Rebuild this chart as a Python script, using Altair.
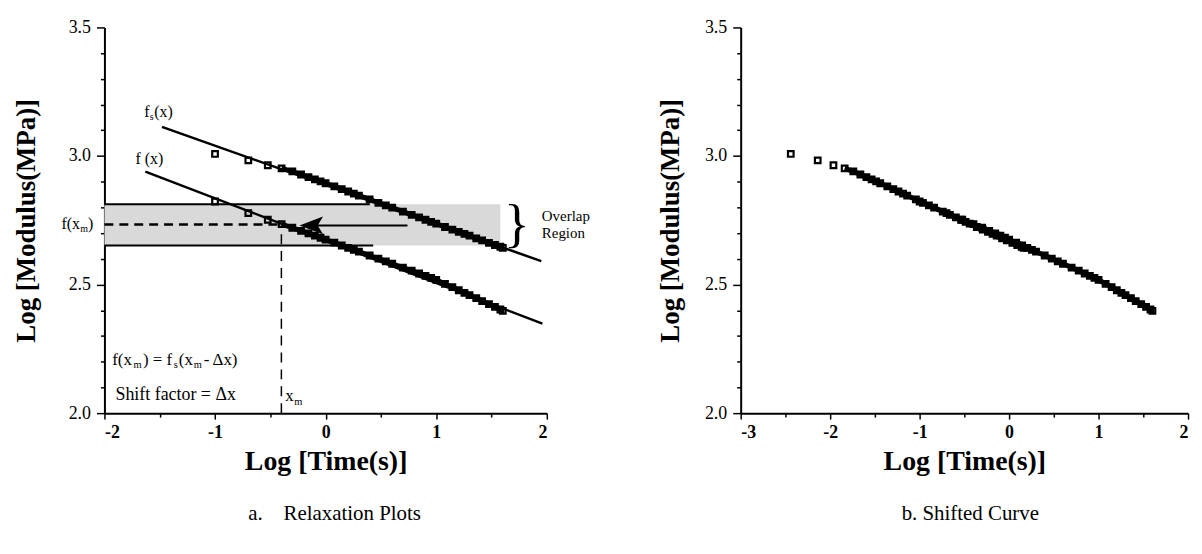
import altair as alt
import pandas as pd

FONT = "Liberation Serif"

# ---------------- data ----------------
# log time (s) of the measured points (both relaxation curves)
LOGT = [-1.000, -0.699, -0.523, -0.398, -0.301, -0.222, -0.155, -0.097, -0.046, 0.000,
        0.079, 0.146, 0.204, 0.255, 0.301, 0.398, 0.477, 0.544, 0.602, 0.699,
        0.778, 0.845, 0.903, 0.954, 1.000, 1.079, 1.146, 1.204, 1.255, 1.301,
        1.362, 1.415, 1.477, 1.531, 1.580, 1.602]
# upper curve f_s(x)
FS_MOD = [3.008, 2.983, 2.964, 2.952, 2.940, 2.928, 2.918, 2.909, 2.901, 2.894,
          2.882, 2.871, 2.862, 2.854, 2.846, 2.831, 2.818, 2.808, 2.799, 2.784,
          2.771, 2.761, 2.752, 2.744, 2.737, 2.724, 2.714, 2.705, 2.697, 2.690,
          2.680, 2.672, 2.662, 2.654, 2.647, 2.643]
# lower curve f(x)
F_MOD = [2.823, 2.778, 2.752, 2.735, 2.721, 2.709, 2.699, 2.690, 2.682, 2.675,
         2.663, 2.652, 2.643, 2.635, 2.628, 2.613, 2.601, 2.590, 2.581, 2.566,
         2.554, 2.543, 2.534, 2.526, 2.518, 2.503, 2.490, 2.478, 2.468, 2.459,
         2.447, 2.436, 2.424, 2.413, 2.403, 2.398]
# upper curve after shifting (panel b)
FS_SHIFTED_LOGT = [-2.440, -2.139, -1.963, -1.838, -1.741, -1.662, -1.595, -1.537, -1.486, -1.440,
                   -1.361, -1.294, -1.236, -1.185, -1.139, -1.042, -0.963, -0.896, -0.838, -0.741,
                   -0.662, -0.595, -0.537, -0.486, -0.440, -0.361, -0.294, -0.236, -0.185, -0.139,
                   -0.078, -0.025, 0.037, 0.091, 0.140, 0.162]

# fitted straight lines in panel a
FS_LINE_X = [-1.48, 1.95]
FS_LINE_Y = [3.113, 2.591]
F_LINE_X = [-1.63, 1.96]
F_LINE_Y = [2.939, 2.348]

# overlap region and construction lines
OVERLAP_X = [-2.0, 1.58]
OVERLAP_Y = [2.652, 2.812]
BORDER_TOP_X = [-2.0, 0.40]
BORDER_BOT_X = [-2.0, 0.43]
XM = -0.40
F_XM = 2.734
ARROW_X = [0.74, -0.13]

X_TICKS_A = [-2, -1.5, -1, -0.5, 0, 0.5, 1, 1.5, 2]
X_TICKS_B = [-3, -2.5, -2, -1.5, -1, -0.5, 0, 0.5, 1, 1.5, 2]
Y_TICKS = [2.0, 2.1, 2.2, 2.3, 2.4, 2.5, 2.6, 2.7, 2.8, 2.9, 3.0, 3.1, 3.2, 3.3, 3.4, 3.5]

# ---------------- helpers ----------------
def x_axis(vals):
    return alt.Axis(values=vals, title="Log [Time(s)]",
                    labelExpr="datum.value % 1 == 0 ? toString(datum.value) : ''",
                    labelOverlap=False, labelFontWeight="bold", labelFontSize=18,
                    labelPadding=5, titleFontSize=28,
                    tickSize={"condition": {"test": "datum.value % 1 == 0", "value": 6}, "value": 4},
                    titlePadding=6)

def y_axis(tp):
    return alt.Axis(values=Y_TICKS, title="Log [Modulus(MPa)]",
                    labelExpr="abs(datum.value*2 - round(datum.value*2)) < 0.001 ? format(datum.value, '.1f') : ''",
                    labelOverlap=False, labelFontSize=18, labelPadding=6, titleFontSize=27,
                    tickSize={"condition": {"test": "abs(datum.value*2 - round(datum.value*2)) < 0.001", "value": 8}, "value": 4},
                    titlePadding=tp)

def enc_x(dom, vals, field="x"):
    return alt.X(field, type="quantitative", scale=alt.Scale(domain=dom, nice=False, zero=False), axis=x_axis(vals))

def enc_y(tp, field="y"):
    return alt.Y(field, type="quantitative", scale=alt.Scale(domain=[2.0, 3.5], nice=False, zero=False), axis=y_axis(tp))

DOM_A = [-2, 2]
DOM_B = [-3, 2]

def XA(f="x"):
    return enc_x(DOM_A, X_TICKS_A, f)

def YA(f="y"):
    return enc_y(28, f)

def txt(s, x, y, size=15, dx=0, dy=0, align="left", weight="normal"):
    return alt.Chart(pd.DataFrame({"x": [x], "y": [y]})).mark_text(
        text=s, font=FONT, fontSize=size, align=align, baseline="middle",
        dx=dx, dy=dy, color="black", fontWeight=weight).encode(x=XA(), y=YA())

# ---------------- panel a ----------------
df_fs = pd.DataFrame({"x": LOGT, "y": FS_MOD})
df_f = pd.DataFrame({"x": LOGT, "y": F_MOD})

overlap = alt.Chart(pd.DataFrame({"x": [OVERLAP_X[0]], "x2": [OVERLAP_X[1]],
                                  "y": [OVERLAP_Y[0]], "y2": [OVERLAP_Y[1]]})).mark_rect(
    color="#d9d9d9").encode(x=XA(), x2="x2", y=YA(), y2="y2")

border_top = alt.Chart(pd.DataFrame({"x": [BORDER_TOP_X[0]], "x2": [BORDER_TOP_X[1]], "y": [OVERLAP_Y[1]]})).mark_rule(
    color="black", strokeWidth=2).encode(x=XA(), x2="x2", y=YA())
border_bot = alt.Chart(pd.DataFrame({"x": [BORDER_BOT_X[0]], "x2": [BORDER_BOT_X[1]], "y": [OVERLAP_Y[0]]})).mark_rule(
    color="black", strokeWidth=2).encode(x=XA(), x2="x2", y=YA())

hdash = alt.Chart(pd.DataFrame({"x": [-2.0], "x2": [XM], "y": [F_XM]})).mark_rule(
    color="black", strokeWidth=2.5, strokeDash=[9, 6]).encode(x=XA(), x2="x2", y=YA())
vdash = alt.Chart(pd.DataFrame({"x": [XM], "y": [2.0], "y2": [F_XM - 0.01]})).mark_rule(
    color="black", strokeWidth=1.5, strokeDash=[10, 7]).encode(x=XA(), y=YA(), y2="y2")

arrow_shaft = alt.Chart(pd.DataFrame({"x": [ARROW_X[0]], "x2": [ARROW_X[1]], "y": [F_XM - 0.004]})).mark_rule(
    color="black", strokeWidth=2).encode(x=XA(), x2="x2", y=YA())
arrow_head = alt.Chart(pd.DataFrame({"x": [ARROW_X[1]], "y": [F_XM - 0.004]})).mark_point(
    shape="M -1 0 L 1 -0.75 L 0.55 0 L 1 0.75 Z", filled=True, color="black", opacity=1,
    size=560).encode(x=XA(), y=YA())

fs_line = alt.Chart(pd.DataFrame({"x": FS_LINE_X, "y": FS_LINE_Y})).mark_line(
    color="black", strokeWidth=2.5).encode(x=XA(), y=YA())
f_line = alt.Chart(pd.DataFrame({"x": F_LINE_X, "y": F_LINE_Y})).mark_line(
    color="black", strokeWidth=2.5).encode(x=XA(), y=YA())

def band(df, xenc, yenc, xmin):
    return alt.Chart(df).transform_filter(alt.datum.x >= xmin).mark_line(
        color="black", strokeWidth=5).encode(x=xenc, y=yenc)

def pts(df, xenc, yenc):
    return alt.Chart(df).mark_point(shape="square", filled=False, color="black",
                                    strokeWidth=2.2, size=32, opacity=1).encode(x=xenc, y=yenc)

FX = -1.93
FY = 2.205
texts = [
    txt("f", -1.64, 3.17, 16),
    txt("s", -1.64, 3.17, 10, dx=5.5, dy=5),
    txt("(x)", -1.64, 3.17, 16, dx=10),
    txt("f (x)", -1.72, 2.99, 16),
    txt(")", -2.10, F_XM, 16, align="right"),
    txt("m", -2.10, F_XM, 10, dx=-5.5, dy=5, align="right"),
    txt("f(x", -2.10, F_XM, 16, dx=-13.5, align="right"),
    txt("f(x", FX, FY, 17),
    txt("m", FX, FY, 10.5, dx=21.5, dy=5),
    txt(") = f", FX, FY, 17, dx=31),
    txt("s", FX, FY, 10.5, dx=62, dy=5),
    txt("(x", FX, FY, 17, dx=67),
    txt("m", FX, FY, 10.5, dx=82, dy=5),
    txt(" - \u0394x)", FX, FY, 17, dx=92),
    txt("Shift factor = \u0394x", -1.90, 2.07, 18),
    txt("x", XM, 2.065, 17, dx=4),
    txt("m", XM, 2.065, 10.5, dx=13, dy=6),
    txt("}", 1.73, 2.731, 54, align="center"),
    txt("Overlap", 1.955, 2.767, 15),
    txt("Region", 1.955, 2.700, 15),
]

panel_a = alt.layer(
    overlap, border_top, border_bot, hdash, vdash, fs_line, f_line,
    band(df_fs, XA(), YA(), -0.45), band(df_f, XA(), YA(), -0.45),
    pts(df_fs, XA(), YA()), pts(df_f, XA(), YA()),
    arrow_shaft, arrow_head, *texts
).properties(
    width=445, height=388,
    title=alt.Title("a.\u00a0\u00a0\u00a0 Relaxation Plots", orient="bottom", fontSize=21, font=FONT,
                    fontWeight="normal", offset=27, anchor="middle", color="black", dx=9)
)

# ---------------- panel b ----------------
XB = enc_x(DOM_B, X_TICKS_B)
YB = enc_y(20)
df_fs_b = pd.DataFrame({"x": FS_SHIFTED_LOGT, "y": FS_MOD})
panel_b = alt.layer(
    band(df_fs_b, XB, YB, -1.90), band(df_f, XB, YB, -1.90),
    pts(df_fs_b, XB, YB), pts(df_f, XB, YB)
).properties(
    width=450, height=388,
    title=alt.Title("b. Shifted Curve", orient="bottom", fontSize=21, font=FONT,
                    fontWeight="normal", offset=27, anchor="middle", color="black", dx=6)
)

chart = alt.hconcat(panel_a, panel_b, spacing=66).properties(
    padding={"left": 4, "top": 9, "right": 5, "bottom": 5}
).configure_view(stroke=None).configure_axis(
    grid=False, domainColor="black", domainWidth=2, tickColor="black", tickWidth=1.5,
    labelFont=FONT, titleFont=FONT, labelColor="black", titleColor="black",
    titleFontWeight="bold"
)

chart.save("out.html", embed_options={"renderer": "svg", "actions": False})
